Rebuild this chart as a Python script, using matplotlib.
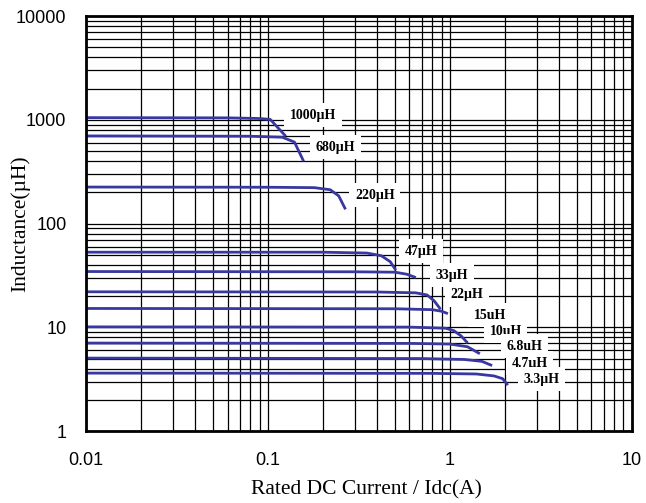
import matplotlib
matplotlib.use("Agg")
import matplotlib.pyplot as plt

# 各电感的 L-Idc 曲线 (A, µH)
labels = ["1000µH", "680µH", "220µH", "47µH", "33µH", "22µH",
          "15uH", "10uH", "6.8uH", "4.7µH", "3.3µH"]
curr = [
    [0.01, 0.06, 0.09, 0.103, 0.124],
    [0.01, 0.08, 0.12, 0.14, 0.156],
    [0.01, 0.1, 0.18, 0.22, 0.245, 0.265],
    [0.01, 0.2, 0.35, 0.42, 0.47, 0.5],
    [0.01, 0.3, 0.5, 0.58, 0.64],
    [0.01, 0.4, 0.65, 0.75, 0.82, 0.88],
    [0.01, 0.5, 0.8, 0.9, 0.96],
    [0.01, 0.6, 0.95, 1.05, 1.15, 1.24],
    [0.01, 0.6, 1.0, 1.25, 1.44],
    [0.01, 0.7, 1.2, 1.5, 1.68],
    [0.01, 0.8, 1.4, 1.75, 1.95, 2.06],
]
induct = [
    [1050, 1045, 1030, 1010, 710],
    [700, 695, 680, 610, 410],
    [225, 224, 222, 212, 185, 141],
    [53, 53, 52, 49, 43, 36.5],
    [34.5, 34.3, 34, 32.5, 30.5],
    [22, 21.9, 21.5, 20.5, 18, 15.3],
    [15.2, 15.1, 14.8, 14.3, 13.7],
    [10.1, 10.05, 9.8, 9.3, 8.3, 7.2],
    [7.05, 7.0, 6.9, 6.5, 5.65],
    [5.05, 5.0, 4.9, 4.7, 4.33],
    [3.62, 3.6, 3.55, 3.4, 3.2, 2.84],
]
# 标签位置
label_x = [0.177, 0.236, 0.387, 0.693, 1.026, 1.24, 1.66, 2.03, 2.58, 2.75, 3.2]
label_y = [1111, 546, 188, 54.3, 31.9, 20.5, 13.1, 9.2, 6.6, 4.52, 3.17]

fig = plt.figure(figsize=(6.46, 5.03), dpi=100)
ax = fig.add_axes([0.133, 0.143, 0.845, 0.825])
ax.set_xscale("log")
ax.set_yscale("log")
ax.set_xlim(0.01, 10)
ax.set_ylim(1, 10000)
ax.grid(True, which="both", color="black", linewidth=0.9)
ax.tick_params(which="both", length=0, labelsize=13)
ax.tick_params(axis="x", pad=15)
ax.tick_params(axis="y", pad=14)
ax.set_xticks([0.01, 0.1, 1, 10])
ax.set_xticklabels(["0.01", "0.1", "1", "10"], family="Liberation Sans")
ax.set_yticks([1, 10, 100, 1000, 10000])
ax.set_yticklabels(["1", "10", "100", "1000", "10000"], family="Liberation Sans")
for s in ax.spines.values():
    s.set_linewidth(2)

for x, y in zip(curr, induct):
    ax.plot(x, y, color="#3838a0", linewidth=2)

for t, x, y in zip(labels, label_x, label_y):
    ax.text(x, y, t, family="Liberation Serif", fontweight="bold", fontsize=10,
            ha="center", va="center",
            bbox=dict(facecolor="white", edgecolor="none", pad=4))

ax.set_xlabel("Rated DC Current / Idc(A)", family="Liberation Serif", fontsize=15.5, va="center")
ax.set_ylabel("Inductance(µH)", family="Liberation Serif", fontsize=15.5, va="center")
ax.xaxis.set_label_coords(0.513, -0.142)
ax.yaxis.set_label_coords(-0.121, 0.5)

fig.savefig("out.png", dpi=100)
